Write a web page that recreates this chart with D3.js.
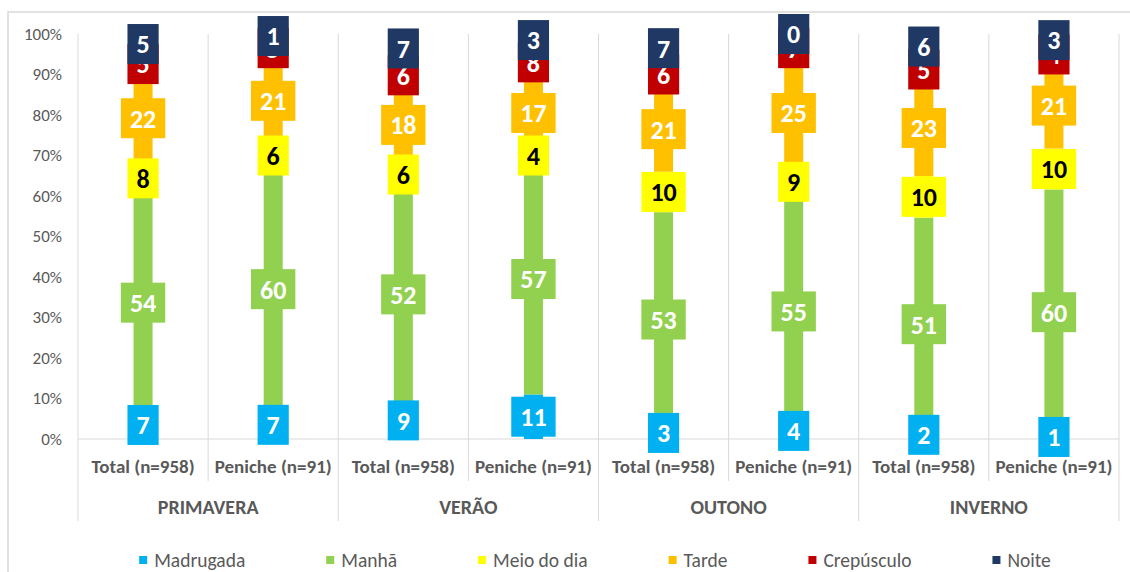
<!DOCTYPE html>
<html>
<head>
<meta charset="utf-8">
<script src="https://cdn.jsdelivr.net/npm/d3@7"></script>
<style>
  body { margin: 0; background: #fff; }
  svg { display: block; }
</style>
</head>
<body>
<div id="app"></div>
<script>
// Values (percent, per bar, bottom to top)
const seasons = ['PRIMAVERA', 'VERÃO', 'OUTONO', 'INVERNO'];
const groups = ['Total (n=958)', 'Peniche (n=91)'];
const seriesNames = ['Madrugada', 'Manhã', 'Meio do dia', 'Tarde', 'Crepúsculo', 'Noite'];
const seriesColors = ['#00B0F0', '#92D050', '#FFFF00', '#FFC000', '#C00000', '#1F3864'];
const labelColors = ['#fff', '#fff', '#000', '#fff', '#fff', '#fff'];

const madrugada = [7, 7, 9, 11, 3, 4, 2, 1];
const manha = [54, 60, 52, 57, 53, 55, 51, 60];
const meioDia = [8, 6, 6, 4, 10, 9, 10, 10];
const tarde = [22, 21, 18, 17, 21, 25, 23, 21];
const crepusculo = [5, 5, 6, 8, 6, 7, 5, 4];
const noite = [5, 1, 7, 3, 7, 0, 6, 3];
const yTicks = [0, 0.1, 0.2, 0.3, 0.4, 0.5, 0.6, 0.7, 0.8, 0.9, 1];

const seriesValues = [madrugada, manha, meioDia, tarde, crepusculo, noite];
const rows = [];
seasons.forEach((s, si) => groups.forEach((g, gi) => {
  const i = si * 2 + gi;
  const row = { key: i, season: s, group: g };
  seriesNames.forEach((n, k) => row[n] = seriesValues[k][i]);
  rows.push(row);
}));

const font = 'Carlito, Lato, sans-serif';
const W = 1130, H = 572;
const plot = { left: 78, right: 1119, top: 34, bottom: 439 };

const svg = d3.select('#app').append('svg')
  .attr('width', W).attr('height', H);

// chart frame
svg.append('rect')
  .attr('x', 8).attr('y', 12)
  .attr('width', W).attr('height', H)
  .attr('fill', 'none').attr('stroke', '#d9d9d9').attr('stroke-width', 1.5);

const x = d3.scaleBand()
  .domain(rows.map(d => d.key))
  .range([plot.left, plot.right]);

const y = d3.scaleLinear()
  .domain([0, 1])
  .range([plot.bottom, plot.top]);

const stacked = d3.stack()
  .keys(seriesNames)
  .offset(d3.stackOffsetExpand)(rows);

// vertical separators
const bounds = d3.range(rows.length + 1).map(i => plot.left + i * x.bandwidth());
svg.append('g').selectAll('line')
  .data(bounds)
  .join('line')
  .attr('x1', d => d).attr('x2', d => d)
  .attr('y1', plot.top)
  .attr('y2', (d, i) => i % 2 === 0 ? 521 : 481)
  .attr('stroke', '#d9d9d9').attr('stroke-width', 1);

// x axis line
svg.append('line')
  .attr('x1', plot.left).attr('x2', plot.right)
  .attr('y1', plot.bottom).attr('y2', plot.bottom)
  .attr('stroke', '#d9d9d9').attr('stroke-width', 1);

// y axis labels
svg.append('g').selectAll('text')
  .data(yTicks)
  .join('text')
  .attr('x', 62)
  .attr('y', d => y(d))
  .attr('dy', '0.35em')
  .attr('text-anchor', 'end')
  .attr('font-family', font)
  .attr('font-size', 17)
  .attr('fill', '#595959')
  .text(d3.format('.0%'));

// bars
const barW = 19;
svg.append('g').selectAll('g')
  .data(stacked)
  .join('g')
  .attr('fill', (d, i) => seriesColors[i])
  .selectAll('rect')
  .data(d => d)
  .join('rect')
  .attr('x', d => x(d.data.key) + x.bandwidth() / 2 - barW / 2)
  .attr('y', d => y(d[1]))
  .attr('width', barW)
  .attr('height', d => y(d[0]) - y(d[1]));

// data labels with filled boxes
const labelLayer = svg.append('g');
stacked.forEach((layer, si) => {
  const g = labelLayer.append('g');
  layer.forEach(d => {
    const cx = x(d.data.key) + x.bandwidth() / 2;
    const cy = y((d[0] + d[1]) / 2);
    const lg = g.append('g');
    const rect = lg.append('rect').attr('fill', seriesColors[si]);
    const t = lg.append('text')
      .attr('x', cx).attr('y', cy)
      .attr('dy', '0.36em')
      .attr('text-anchor', 'middle')
      .attr('font-family', font)
      .attr('font-weight', 'bold')
      .attr('font-size', 26)
      .attr('fill', labelColors[si])
      .text(d.data[layer.key]);
    const tw = t.node().getComputedTextLength();
    rect.attr('x', cx - tw / 2 - 9).attr('y', cy - 20)
      .attr('width', tw + 18).attr('height', 40);
  });
});

// category labels
svg.append('g').selectAll('text')
  .data(rows)
  .join('text')
  .attr('x', d => x(d.key) + x.bandwidth() / 2)
  .attr('y', 466)
  .attr('dy', '0.35em')
  .attr('text-anchor', 'middle')
  .attr('font-family', font)
  .attr('font-weight', 'bold')
  .attr('font-size', 19)
  .attr('fill', '#595959')
  .text(d => d.group);

// season labels
svg.append('g').selectAll('text')
  .data(seasons)
  .join('text')
  .attr('x', (d, i) => plot.left + (i * 2 + 1) * x.bandwidth())
  .attr('y', 507)
  .attr('dy', '0.35em')
  .attr('text-anchor', 'middle')
  .attr('font-family', font)
  .attr('font-weight', 'bold')
  .attr('font-size', 20)
  .attr('fill', '#595959')
  .text(d => d);

// legend
const legend = svg.append('g');
let lx = 0;
seriesNames.forEach((n, i) => {
  const item = legend.append('g').attr('transform', `translate(${lx},0)`);
  item.append('rect')
    .attr('x', 0).attr('y', -4)
    .attr('width', 8).attr('height', 8)
    .attr('fill', seriesColors[i]);
  const t = item.append('text')
    .attr('x', 15).attr('y', 0)
    .attr('dy', '0.35em')
    .attr('font-family', font)
    .attr('font-size', 19.5)
    .attr('fill', '#595959')
    .text(n);
  lx += 15 + t.node().getComputedTextLength() + 81;
});
const legendW = lx - 81;
legend.attr('transform', `translate(${Math.max(20, 595 - legendW / 2)},560)`);
</script>
</body>
</html>
